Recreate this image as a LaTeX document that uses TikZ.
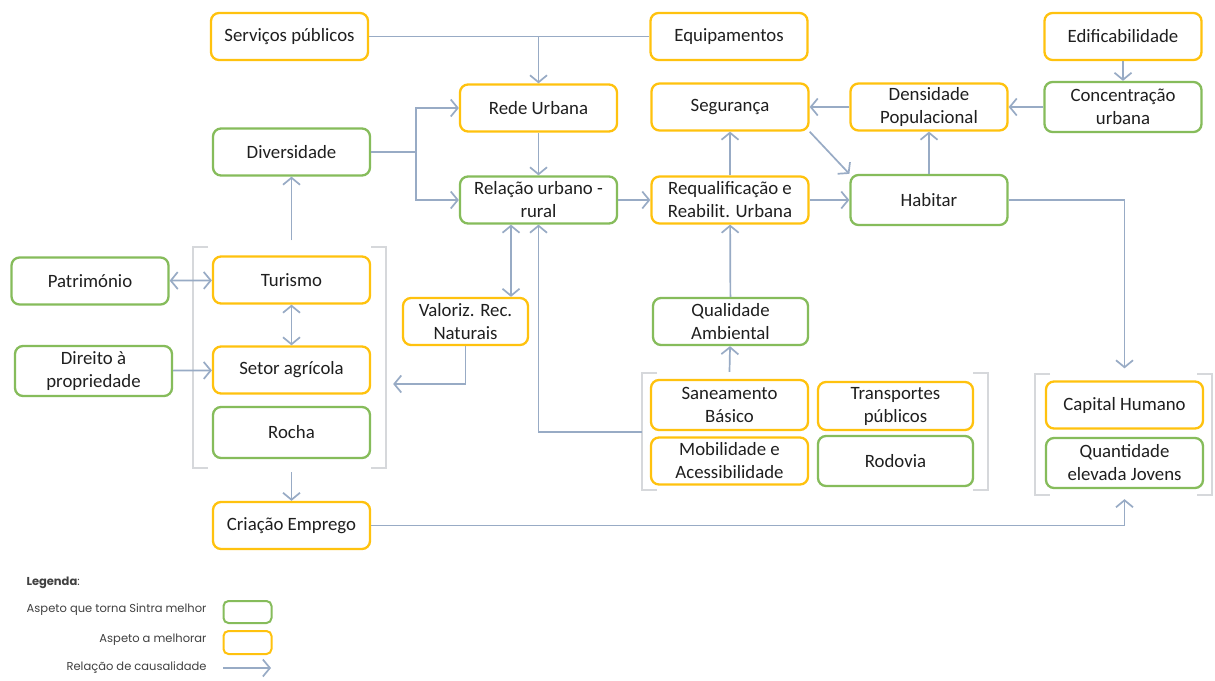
\documentclass[tikz,border=0pt]{standalone}
\usepackage{fontspec}
\setmainfont{Carlito}
\newfontfamily\legendfont{Poppins}
\usetikzlibrary{arrows.meta}
\definecolor{sinGreen}{HTML}{86BC5B}
\definecolor{sinGold}{HTML}{FFC20E}
\definecolor{sinArrow}{HTML}{98ABC5}
\definecolor{sinBracket}{HTML}{D6D8DB}
\definecolor{sinText}{HTML}{1F1F1F}
\tikzset{
  sin box/.style={rounded corners=8pt, line width=2.3pt, minimum width=157pt, minimum height=47pt,
    inner sep=2pt, align=center, fill=white, text=sinText,
    font=\fontsize{18.8}{23}\selectfont},
  sin better/.style={sin box, draw=sinGreen},
  sin improve/.style={sin box, draw=sinGold},
  sin link/.style={draw=sinArrow, line width=1.7pt},
  sin cause/.style={sin link, -{Straight Barb[length=7pt,width=17pt]}},
  sin both/.style={sin link, {Straight Barb[length=7pt,width=17pt]}-{Straight Barb[length=7pt,width=17pt]}},
  sin bracket/.style={draw=sinBracket, line width=2pt},
  sin legend/.style={font=\legendfont\fontsize{11.5}{13}\selectfont, text=sinText!85},
}

\begin{document}
\begin{tikzpicture}[x=1pt, y=-1pt]
  \useasboundingbox[fill=white] (0,0) rectangle (1215,680);

  % Top row
  \node[sin improve] (serv)  at (289.5,36.5) {Serviços públicos};
  \node[sin improve] (equip) at (729,36.5)   {Equipamentos};
  \node[sin improve] (edif)  at (1123,36.5)  {Edificabilidade};

  % Urban core
  \node[sin improve] (rede)   at (538.5,108) {Rede Urbana};
  \node[sin improve] (seg)    at (730,107)   {Segurança};
  \node[sin improve] (dens)   at (929,107)   {Densidade\\Populacional};
  \node[sin better, minimum height=50pt] (conc) at (1123,107) {Concentração\\urbana};
  \node[sin better] (div)     at (291.5,152) {Diversidade};
  \node[sin better] (rel)     at (538.5,200) {Relação urbano -\\rural};
  \node[sin improve] (requal) at (730,200)   {Requalificação e\\Reabilit. Urbana};
  \node[sin better, minimum height=50pt] (hab) at (929,200) {Habitar};

  % Rural side
  \node[sin better] (pat)    at (90,281)    {Património};
  \node[sin improve] (tur)   at (291.5,280) {Turismo};
  \node[sin better, minimum height=50pt] (dir) at (93.5,371) {Direito à\\propriedade};
  \node[sin improve] (setor) at (291.5,370) {Setor agrícola};
  \node[sin better, minimum height=51pt] (rocha) at (291.5,432.5) {Rocha};
  \node[sin improve] (cri)   at (291.5,525.5) {Criação Emprego};
  \node[sin improve, minimum width=125pt] (val) at (465.5,321.5) {Valoriz. Rec.\\Naturais};

  % Environment and mobility
  \node[sin better, minimum width=155pt] (qual) at (730.5,321.5) {Qualidade\\Ambiental};
  \node[sin improve, minimum height=50pt] (san) at (729.5,405) {Saneamento\\Básico};
  \node[sin improve, minimum width=155pt, minimum height=48pt] (trans) at (895.5,406) {Transportes\\públicos};
  \node[sin improve] (mob) at (729.5,461) {Mobilidade e\\Acessibilidade};
  \node[sin better, minimum width=155pt, minimum height=50pt] (rod) at (895.5,461) {Rodovia};

  % People
  \node[sin improve] (cap) at (1124.5,405) {Capital Humano};
  \node[sin better, minimum height=50pt] (jov) at (1124.5,463) {Quantidade\\elevada Jovens};

  % Group brackets
  \draw[sin bracket] (208,247) -| (193,468) -- (208,468);
  \draw[sin bracket] (371,247) -| (386,468) -- (371,468);
  \draw[sin bracket] (657,373) -| (642,490) -- (657,490);
  \draw[sin bracket] (973,373) -| (988,490) -- (973,490);
  \draw[sin bracket] (1050,374) -| (1035,495) -- (1050,495);
  \draw[sin bracket] (1197,374) -| (1212,495) -- (1197,495);
  \coordinate (sangrp) at (642,432);

  % Causal links
  \draw[sin link] (serv) -- (equip);
  \draw[sin cause] (serv -| rede) -- (rede);
  \draw[sin cause] (div.east) -- ++(45,0) |- (rede.west);
  \draw[sin cause] (div.east) -- ++(45,0) |- (rel.west);
  \draw[sin cause] (rede) -- (rel);
  \draw[sin cause] (rel) -- (requal);
  \draw[sin cause] (requal) -- (seg);
  \draw[sin cause] (requal) -- (hab);
  \draw[sin cause] (seg.south east) -- (hab.north west);
  \draw[sin cause] (hab) -- (dens);
  \draw[sin cause] (dens) -- (seg);
  \draw[sin cause] (conc) -- (dens);
  \draw[sin cause] (edif) -- (conc);
  \draw[sin cause] (hab.east) -| ([yshift=12pt]cap.north);
  \draw[sin cause] (cri.east) -| ([yshift=-10pt]jov.south);
  \draw[sin cause] ([yshift=15pt]tur.north) -- (div);
  \draw[sin cause] ([yshift=-13pt]rocha.south) -- (cri);
  \draw[sin both] (pat) -- (tur);
  \draw[sin both] (tur) -- (setor);
  \draw[sin cause] (dir) -- (setor);
  \draw[sin both] ([xshift=45.5pt]val.north) -- ([xshift=45.5pt]val.north |- rel.south);
  \draw[sin cause] (val.south) |- ([shift={(22pt,-14pt)}]setor.east);
  \draw[sin cause] (sangrp) -| (rel.south);
  \draw[sin cause] ([yshift=7pt]san.north) -- (qual);
  \draw[sin cause] (qual) -- (requal);

  % Legend
  \node[sin legend, anchor=west] (legtitle) at (23,583) {\textbf{Legenda}:};
  \node[sin legend, anchor=east] (legbetter) at (210,610) {Aspeto que torna Sintra melhor};
  \node[sin legend, anchor=east] (legimprove) at (210,640) {Aspeto a melhorar};
  \node[sin legend, anchor=east] (legcause) at (210,668) {Relação de causalidade};
  \node[draw=sinGreen, line width=2pt, rounded corners=5pt, minimum width=48pt, minimum height=22pt] (keybetter) at (247.5,612) {};
  \node[draw=sinGold, line width=2pt, rounded corners=5pt, minimum width=48pt, minimum height=23pt] (keyimprove) at (247.5,642.5) {};
  \coordinate (keyfrom) at (223,668);
  \coordinate (keyto) at (271,668);
  \draw[sin cause] (keyfrom) -- (keyto);
\end{tikzpicture}
\end{document}
